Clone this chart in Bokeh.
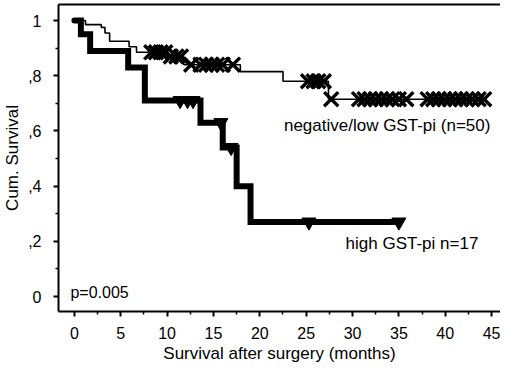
from bokeh.plotting import figure
from bokeh.models import Range1d, FixedTicker, LinearAxis, CustomJSTickFormatter, Label
from bokeh.embed import file_html
from bokeh.resources import INLINE

# ---- data ----
x_ticks = [0, 5, 10, 15, 20, 25, 30, 35, 40, 45]
x_minor = [2.5, 7.5, 12.5, 17.5, 22.5, 27.5, 32.5, 37.5, 42.5]
y_ticks = [0, 0.2, 0.4, 0.6, 0.8, 1.0]
y_minor = [0.1, 0.3, 0.5, 0.7, 0.9]
y_tick_labels = ["0", ",2", ",4", ",6", ",8", "1"]

# high GST-pi (n=17) step curve
high_t = [0, 0.7, 1.7, 5.8, 7.6, 13.6, 16.0, 17.5, 19.0, 35.0]
high_s = [1.0, 0.95, 0.89, 0.83, 0.71, 0.63, 0.54, 0.40, 0.27, 0.27]
high_cens_t = [11.4, 12.2, 12.8, 15.8, 16.9, 25.3, 35.0]
high_cens_s = [0.71, 0.71, 0.71, 0.63, 0.54, 0.27, 0.27]

# negative/low GST-pi (n=50) step curve
low_t = [0, 1.2, 2.9, 3.3, 3.8, 5.9, 6.7, 10.0, 11.8, 17.9, 22.5, 27.4, 44.2]
low_s = [1.0, 0.985, 0.975, 0.955, 0.925, 0.905, 0.885, 0.87, 0.84, 0.815, 0.78, 0.715, 0.715]
low_cens_t = [8.3, 8.8, 9.3, 9.8, 10.4, 11.0, 11.5,
              12.6, 13.6, 14.2, 14.8, 15.4, 16.0, 17.1,
              25.2, 25.8, 26.3, 26.9, 27.7,
              30.7, 31.3, 31.9, 32.5, 33.1, 33.7, 34.3, 35.0, 35.8,
              38.1, 38.7, 39.3, 39.9, 40.5, 41.1, 41.7, 42.3, 42.9, 43.6, 44.2]
low_cens_s = [0.885, 0.885, 0.885, 0.885, 0.87, 0.87, 0.87,
              0.84, 0.84, 0.84, 0.84, 0.84, 0.84, 0.84,
              0.78, 0.78, 0.78, 0.78, 0.715,
              0.715, 0.715, 0.715, 0.715, 0.715, 0.715, 0.715, 0.715, 0.715,
              0.715, 0.715, 0.715, 0.715, 0.715, 0.715, 0.715, 0.715, 0.715, 0.715, 0.715]

FONT = "Liberation Sans"

p = figure(width=500, height=366, output_backend="svg", toolbar_location=None,
           x_range=Range1d(-1.714, 45.96), y_range=Range1d(-0.054, 1.058),
           min_border_left=55, min_border_right=0, min_border_top=4, min_border_bottom=55,
           x_axis_label="Survival after surgery (months)", y_axis_label="Cum. Survival")
p.outline_line_color = None
p.grid.visible = False
p.background_fill_color = "white"
p.border_fill_color = "white"

for ax in (p.xaxis[0], p.yaxis[0]):
    ax.axis_line_width = 2
    ax.axis_line_color = "black"
    ax.major_tick_line_width = 2
    ax.minor_tick_line_width = 1.5
    ax.major_tick_line_color = "black"
    ax.minor_tick_line_color = "black"
    ax.major_tick_in = 0
    ax.major_tick_out = 5
    ax.minor_tick_in = 0
    ax.minor_tick_out = 3
    ax.major_label_text_font = FONT
    ax.major_label_text_font_size = "16px"
    ax.major_label_text_color = "black"
    ax.axis_label_text_font = FONT
    ax.axis_label_text_font_size = "17px"
    ax.axis_label_text_font_style = "normal"
    ax.axis_label_text_color = "black"

p.xaxis[0].ticker = FixedTicker(ticks=x_ticks, minor_ticks=x_minor)
p.xaxis[0].major_label_standoff = 10
p.xaxis[0].axis_label_standoff = 2
p.yaxis[0].ticker = FixedTicker(ticks=y_ticks, minor_ticks=y_minor)
p.yaxis[0].formatter = CustomJSTickFormatter(args=dict(tvals=y_ticks, labs=y_tick_labels), code="""
const i = tvals.findIndex(t => Math.abs(t - tick) < 1e-6);
return i >= 0 ? labs[i] : '';
""")
p.yaxis[0].major_label_standoff = 12
p.yaxis[0].axis_label_standoff = 3

top = LinearAxis(ticker=FixedTicker(ticks=[]), major_label_text_font_size="0px",
                 major_tick_line_color=None, minor_tick_line_color=None,
                 axis_line_width=2, axis_line_color="black")
p.add_layout(top, "above")

# curves
p.step(low_t, low_s, mode="after", line_color="black", line_width=1.6)
p.step(high_t, high_s, mode="after", line_color="black", line_width=6, line_cap="round", line_join="miter")

p.scatter(low_cens_t, low_cens_s, marker="x", size=20, line_color="black", line_width=3.4)
p.scatter(high_cens_t, high_cens_s, marker="inverted_triangle", size=14,
          fill_color="black", line_color="black")

p.add_layout(Label(x=22.6, y=0.621, text="negative/low  GST-pi (n=50)", text_font=FONT,
                   text_font_size="17px", text_baseline="middle", text_color="black"))
p.add_layout(Label(x=29.25, y=0.194, text="high GST-pi n=17", text_font=FONT,
                   text_font_size="17px", text_baseline="middle", text_color="black"))
p.add_layout(Label(x=-0.43, y=0.015, text="p=0.005", text_font=FONT,
                   text_font_size="16px", text_baseline="middle", text_color="black"))

open("out.html", "w").write(file_html(p, INLINE))
